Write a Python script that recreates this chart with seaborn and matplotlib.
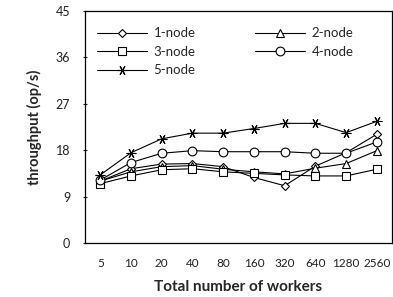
import numpy as np
import pandas as pd
import matplotlib
matplotlib.use("Agg")
import matplotlib.pyplot as plt
import seaborn as sns

# Données
workers = ["5", "10", "20", "40", "80", "160", "320", "640", "1280", "2560"]
node1 = [12.0, 14.4, 15.3, 15.4, 14.8, 12.7, 11.1, 14.9, 17.5, 21.1]
node2 = [12.0, 13.8, 14.8, 15.0, 14.3, 13.8, 13.4, 14.5, 15.4, 17.9]
node3 = [11.5, 13.0, 14.2, 14.4, 13.8, 13.5, 13.2, 13.0, 13.0, 14.3]
node4 = [12.2, 15.6, 17.4, 17.9, 17.7, 17.7, 17.7, 17.4, 17.4, 19.6]
node5 = [13.2, 17.5, 20.2, 21.3, 21.3, 22.2, 23.2, 23.2, 21.4, 23.6]
series = ["1-node", "2-node", "3-node", "4-node", "5-node"]

df = pd.DataFrame({
    "workers": workers * 5,
    "throughput": node1 + node2 + node3 + node4 + node5,
    "serie": np.repeat(series, len(workers)),
})
df["pos"] = df["workers"].map({w: i for i, w in enumerate(workers)})

sns.set_style("white")
plt.rcParams["font.family"] = ["Lato", "DejaVu Sans"]

fig = plt.figure(figsize=(3.93, 2.97), dpi=100)
ax = fig.add_axes([0.216, 0.182, 0.782, 0.781])

markers = {"1-node": "D", "2-node": "^", "3-node": "s", "4-node": "o", "5-node": (6, 2, 90)}
sizes = {"1-node": 4.5, "2-node": 5.5, "3-node": 5.5, "4-node": 6.3, "5-node": 7}

for s in series:
    sub = df[df.serie == s]
    sns.lineplot(data=sub, x="pos", y="throughput", ax=ax, color="black", lw=0.8,
                 marker=markers[s], markersize=sizes[s], markerfacecolor="white",
                 markeredgecolor="black", markeredgewidth=0.8, label=s)

ax.set_xlim(-0.5, 9.5)
ax.set_ylim(0, 45)
ax.set_yticks([0, 9, 18, 27, 36, 45])
ax.set_xticks(range(len(workers)))
ax.set_xticklabels(workers)
ax.set_xticks(np.arange(-0.5, 10, 1), minor=True)
ax.tick_params(axis="x", which="major", length=0, pad=11, labelsize=8.5, colors="#222222")
ax.tick_params(axis="x", which="minor", length=4, direction="in", width=0.8)
ax.tick_params(axis="y", which="major", length=3, direction="inout", width=0.8,
               left=True, labelsize=9, pad=9, colors="#222222")

for sp in ax.spines.values():
    sp.set_color("black")
    sp.set_linewidth(0.9)

ax.set_xlabel("Total number of workers", fontsize=11, fontweight="bold", labelpad=8)
ax.set_ylabel("throughput (op/s)", fontsize=10.5, fontweight="bold", labelpad=10)

# ordre ligne par ligne dans la légende
h, l = ax.get_legend_handles_labels()
order = [0, 2, 4, 1, 3]
ax.legend([h[i] for i in order], [l[i] for i in order], loc="upper left", ncol=2,
          frameon=False, fontsize=9.5, handlelength=3.8, columnspacing=4.5,
          labelspacing=0.5, bbox_to_anchor=(0.039, 0.93), borderpad=0,
          borderaxespad=0, handletextpad=0.5)

plt.savefig("out.png", dpi=100)
